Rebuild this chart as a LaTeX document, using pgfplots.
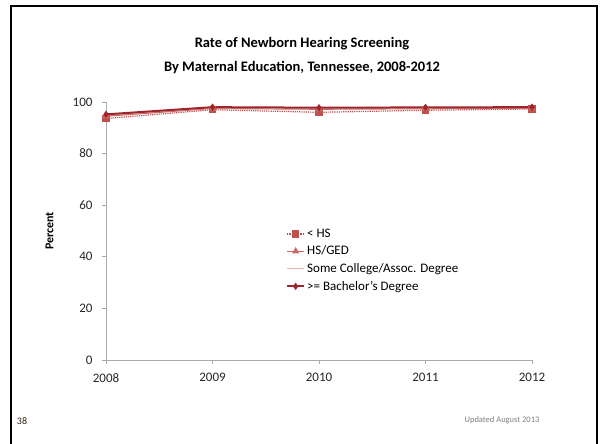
\documentclass[border=0pt]{standalone}
\usepackage{pgfplots}
\pgfplotsset{compat=1.18}
\usepackage{fontspec}
\setmainfont{Carlito}
\definecolor{darkred}{RGB}{158,38,42}
\definecolor{midred}{RGB}{192,80,77}
\definecolor{pinkish}{RGB}{232,178,176}
\definecolor{axgray}{RGB}{170,170,170}
\begin{document}
\begin{tikzpicture}
\path[use as bounding box] (0pt,0pt) rectangle (600pt,444pt);
\draw[line width=2.2pt,black] (11pt,-2pt) -- (11pt,438pt) -- (597pt,438pt) -- (597pt,-2pt);
\node[font=\fontsize{14.5}{16}\selectfont\bfseries] at (302pt,400pt) {Rate of Newborn Hearing Screening};
\node[font=\fontsize{14.5}{16}\selectfont\bfseries] at (302pt,376pt) {By Maternal Education, Tennessee, 2008-2012};
\node[font=\fontsize{10}{12}\selectfont, text=black!75!brown] at (22pt,23pt) {38};
\node[font=\fontsize{8.5}{10}\selectfont, text=gray] at (502pt,24pt) {Updated August 2013};
\begin{axis}[
  at={(106pt,84pt)}, anchor=origin,
  scale only axis, width=426pt, height=258pt,
  xmin=2008, xmax=2012, ymin=0, ymax=100,
  xtick={2008,2009,2010,2011,2012},
  xticklabels={2008,2009,2010,2011,2012},
  ytick={0,20,40,60,80,100},
  axis x line*=bottom, axis y line*=left,
  axis line style={axgray, line width=0.8pt, -},
  tick style={axgray, line width=0.8pt},
  major tick length=4pt,
  tick align=outside,
  ticklabel style={font=\fontsize{13}{15}\selectfont, text=black!85},
  xticklabel style={yshift=-6pt},
  yticklabel style={xshift=-6pt},
  /pgf/number format/assume math mode=true,
  ylabel={Percent}, ylabel style={font=\fontsize{12}{14}\selectfont\bfseries, at={(-0.115,0.5)}},
  clip=false,
  legend style={at={(0.42,0.52)}, anchor=north west, draw=none, fill=none,
    font=\fontsize{13}{15}\selectfont, row sep=3pt, inner sep=1pt},
  legend cell align=left,
]
\addplot[midred, densely dotted, line width=1.2pt, mark=square*, mark size=3pt, mark options={solid, fill=midred}]
  coordinates {(2008,93.6) (2009,97.0) (2010,96.0) (2011,96.8) (2012,97.3)};
\addlegendentry{< HS}
\addplot[midred!85, line width=1.2pt, mark=triangle*, mark size=3pt, mark options={solid, fill=midred!85}]
  coordinates {(2008,94.5) (2009,97.5) (2010,97.2) (2011,97.4) (2012,97.6)};
\addlegendentry{HS/GED}
\addplot[pinkish, line width=1.2pt, no marks]
  coordinates {(2008,95.0) (2009,97.8) (2010,97.6) (2011,97.7) (2012,97.9)};
\addlegendentry{Some College/Assoc. Degree}
\addplot[darkred, line width=2pt, mark=diamond*, mark size=2pt, mark options={solid, fill=darkred}]
  coordinates {(2008,95.2) (2009,98.0) (2010,97.8) (2011,97.9) (2012,98.0)};
\addlegendentry{>= Bachelor's Degree}
\end{axis}
\end{tikzpicture}
\end{document}
